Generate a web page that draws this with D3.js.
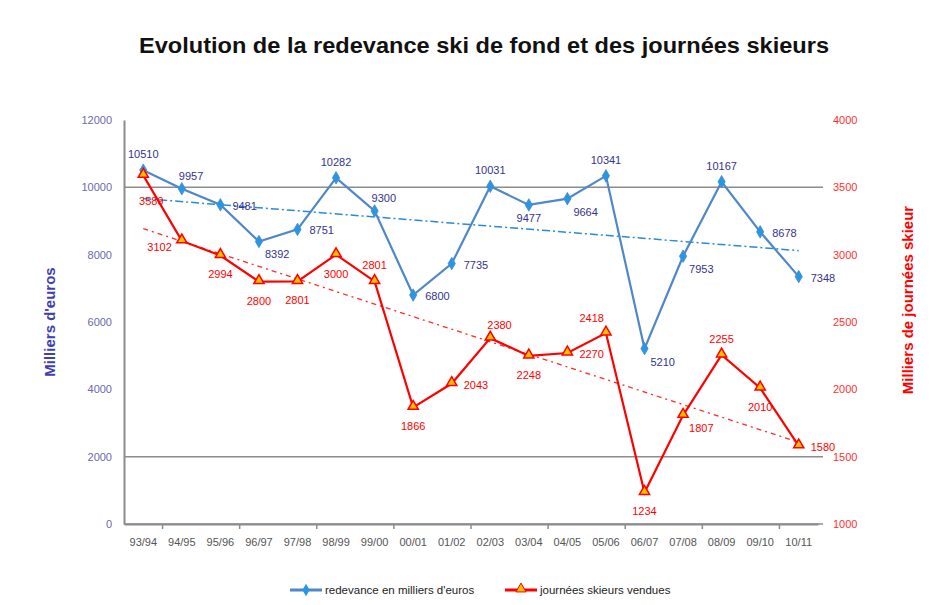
<!DOCTYPE html>
<html>
<head>
<meta charset="utf-8">
<script src="https://cdn.jsdelivr.net/npm/d3@7"></script>
<style>
  body { margin: 0; background: #fff; }
  text { font-family: "Liberation Sans", Arial, sans-serif; }
</style>
</head>
<body>
<div id="chart"></div>
<script>
// data
var seasons = ["93/94","94/95","95/96","96/97","97/98","98/99","99/00","00/01","01/02",
               "02/03","03/04","04/05","05/06","06/07","07/08","08/09","09/10","10/11"];
var redevance = [10510, 9957, 9481, 8392, 8751, 10282, 9300, 6800, 7735,
                 10031, 9477, 9664, 10341, 5210, 7953, 10167, 8678, 7348];
var journees = [3589, 3102, 2994, 2800, 2801, 3000, 2801, 1866, 2043,
                2380, 2248, 2270, 2418, 1234, 1807, 2255, 2010, 1580];
var leftTicks = [0, 2000, 4000, 6000, 8000, 10000, 12000];
var rightTicks = [1000, 1500, 2000, 2500, 3000, 3500, 4000];
var gridValues = [0, 2000, 10000];

var W = 945, H = 605;
var pLeft = 124, pRight = 818, pTop = 120, pBottom = 524;

var svg = d3.select("#chart").append("svg")
    .attr("width", W).attr("height", H);

var x = d3.scaleBand().domain(seasons).range([pLeft, pRight]);
var yL = d3.scaleLinear().domain([0, 12000]).range([pBottom, pTop]);
var yR = d3.scaleLinear().domain([1000, 4000]).range([pBottom, pTop]);
var cx = function(d, i) { return x(seasons[i]) + x.bandwidth() / 2; };

// title
svg.append("text")
    .attr("x", 484).attr("y", 53)
    .attr("text-anchor", "middle")
    .attr("textLength", 690).attr("lengthAdjust", "spacingAndGlyphs")
    .style("font-size", "22px").style("font-weight", "bold")
    .attr("fill", "#111")
    .text("Evolution de la redevance ski de fond et des journées skieurs");

// grid lines (only 2000 and 10000 are visible)
svg.selectAll(".grid").data(gridValues).enter().append("line")
    .attr("x1", pLeft).attr("x2", pRight + 5)
    .attr("y1", function(d) { return yL(d); })
    .attr("y2", function(d) { return yL(d); })
    .attr("stroke", "#8c8c8c").attr("stroke-width", 1.5);

// left axis
var gL = svg.append("g").attr("transform", "translate(" + pLeft + ",0)")
    .call(d3.axisLeft(yL).tickValues(leftTicks).tickFormat(d3.format("d"))
        .tickSize(0).tickPadding(12));
gL.select(".domain").attr("stroke", "#8c8c8c").attr("stroke-width", 2);
gL.selectAll("text").attr("fill", "#6a6aaa").style("font-size", "11px");

// right axis
var gR = svg.append("g").attr("transform", "translate(" + pRight + ",0)")
    .call(d3.axisRight(yR).tickValues(rightTicks).tickFormat(d3.format("d"))
        .tickSize(0).tickPadding(15));
gR.select(".domain").remove();
gR.selectAll("text").attr("fill", "#ff3030").style("font-size", "11px");

// bottom axis
var gB = svg.append("g").attr("transform", "translate(0," + pBottom + ")")
    .call(d3.axisBottom(x).tickSize(0).tickPadding(14));
gB.select(".domain").attr("stroke", "#8c8c8c").attr("stroke-width", 2);
gB.selectAll("text").attr("fill", "#555").style("font-size", "11px");
gB.selectAll(".tk").data(seasons.slice(1).filter(function(d, i) { return i % 2 === 0; }))
    .enter().append("line")
    .attr("x1", function(d) { return x(d); }).attr("x2", function(d) { return x(d); })
    .attr("y1", 0).attr("y2", 5)
    .attr("stroke", "#8c8c8c").attr("stroke-width", 1.5);

// axis titles
svg.append("text")
    .attr("transform", "translate(55," + 322 + ") rotate(-90)")
    .attr("text-anchor", "middle")
    .attr("fill", "#4040b0")
    .style("font-size", "15px").style("font-weight", "bold")
    .text("Milliers d'euros");
svg.append("text")
    .attr("transform", "translate(913," + 300 + ") rotate(-90)")
    .attr("text-anchor", "middle")
    .attr("fill", "#ff0000")
    .style("font-size", "15px").style("font-weight", "bold")
    .text("Milliers de journées skieur");

// linear trend (least squares)
function trend(vals) {
    var n = vals.length, idx = d3.range(n);
    var mx = d3.mean(idx), my = d3.mean(vals);
    var b = d3.sum(idx, function(i) { return (i - mx) * (vals[i] - my); }) /
            d3.sum(idx, function(i) { return (i - mx) * (i - mx); });
    return [[0, my - b * mx], [n - 1, my + b * (n - 1 - mx)]];
}
var trendLine = function(scale) {
    return d3.line()
        .x(function(d) { return x(seasons[d[0]]) + x.bandwidth() / 2; })
        .y(function(d) { return scale(d[1]); });
};

svg.append("path").datum(trend(redevance))
    .attr("d", trendLine(yL))
    .attr("fill", "none").attr("stroke", "#2a8ad8").attr("stroke-width", 1.5)
    .attr("stroke-dasharray", "8,3,2,3");
svg.append("path").datum(trend(journees))
    .attr("d", trendLine(yR))
    .attr("fill", "none").attr("stroke", "#ff2a2a").attr("stroke-width", 1.3)
    .attr("stroke-dasharray", "5,4,2,4");

// series lines
var lineL = d3.line().x(cx).y(function(d) { return yL(d); });
var lineR = d3.line().x(cx).y(function(d) { return yR(d); });

svg.append("path").datum(redevance).attr("d", lineL)
    .attr("fill", "none").attr("stroke", "#4f87c8").attr("stroke-width", 2.2);
svg.append("path").datum(journees).attr("d", lineR)
    .attr("fill", "none").attr("stroke", "#ff0000").attr("stroke-width", 2.2);

var diamond = d3.symbol().type(d3.symbolDiamond).size(45);
var triangle = d3.symbol().type(d3.symbolTriangle).size(45);

svg.selectAll(".mb").data(redevance).enter().append("path")
    .attr("d", diamond)
    .attr("transform", function(d, i) { return "translate(" + cx(d, i) + "," + yL(d) + ")"; })
    .attr("fill", "#2399e6").attr("stroke", "#4f87c8").attr("stroke-width", 0.8);

svg.selectAll(".mr").data(journees).enter().append("path")
    .attr("d", triangle)
    .attr("transform", function(d, i) { return "translate(" + cx(d, i) + "," + (yR(d) - 1) + ")"; })
    .attr("fill", "#ffc000").attr("stroke", "#ff0000").attr("stroke-width", 1.5);

// data labels: side code per point
var blueSide = ["t","tr","r","br","r","t","tr","r","r","t","b","br","t","br","br","t","r","r"];
var redSide  = ["bbb","bl","bb","bb","bb","bb","t","bb","r","tr","bb","r","tl","bb","br","t","bb","r"];
var place = {
    t:   { dx: 0,   dy: -12, a: "middle" },
    b:   { dx: 0,   dy: 17,  a: "middle" },
    bb:  { dx: 0,   dy: 23,  a: "middle" },
    bbb: { dx: 8,   dy: 30,  a: "middle" },
    r:   { dx: 12,  dy: 5,   a: "start" },
    tr:  { dx: -3,  dy: -9,  a: "start" },
    br:  { dx: 6,   dy: 17,  a: "start" },
    bl:  { dx: -10, dy: 10,  a: "end" },
    tl:  { dx: -2,  dy: -11, a: "end" }
};

function labels(vals, sides, scale, color) {
    svg.selectAll(null).data(vals).enter().append("text")
        .attr("x", function(d, i) { return cx(d, i) + place[sides[i]].dx; })
        .attr("y", function(d, i) { return scale(d) + place[sides[i]].dy; })
        .attr("text-anchor", function(d, i) { return place[sides[i]].a; })
        .attr("fill", color)
        .style("font-size", "11px")
        .text(function(d) { return d; });
}
labels(redevance, blueSide, yL, "#33338f");
labels(journees, redSide, yR, "#ff0000");

// legend
var lg = svg.append("g");
lg.append("line").attr("x1", 290).attr("x2", 322).attr("y1", 590).attr("y2", 590)
    .attr("stroke", "#4f87c8").attr("stroke-width", 3);
lg.append("path").attr("d", diamond).attr("transform", "translate(306,590)")
    .attr("fill", "#2399e6");
lg.append("text").attr("x", 325).attr("y", 594)
    .style("font-size", "11.5px").attr("fill", "#222")
    .text("redevance en milliers d'euros");
lg.append("line").attr("x1", 505).attr("x2", 537).attr("y1", 590).attr("y2", 590)
    .attr("stroke", "#ff0000").attr("stroke-width", 3);
lg.append("path").attr("d", triangle).attr("transform", "translate(521,589)")
    .attr("fill", "#ffc000").attr("stroke", "#ff0000");
lg.append("text").attr("x", 540).attr("y", 594)
    .style("font-size", "11.5px").attr("fill", "#222")
    .text("journées skieurs vendues");
</script>
</body>
</html>
